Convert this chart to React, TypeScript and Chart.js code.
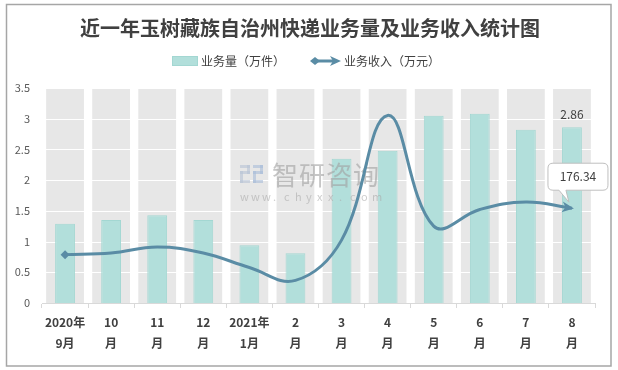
import React, { useEffect, useRef } from "react";
import { Chart, registerables } from "chart.js";

Chart.register(...registerables);

const title = "近一年玉树藏族自治州快递业务量及业务收入统计图";
const volumeLabel = "业务量（万件）";
const revenueLabel = "业务收入（万元）";
const categories = [
  ["2020年", "9月"], ["10", "月"], ["11", "月"], ["12", "月"],
  ["2021年", "1月"], ["2", "月"], ["3", "月"], ["4", "月"],
  ["5", "月"], ["6", "月"], ["7", "月"], ["8", "月"],
];
const volume = [1.29, 1.35, 1.43, 1.35, 0.94, 0.81, 2.35, 2.48, 3.05, 3.08, 2.82, 2.86];
const revenue = [90, 93, 104, 93, 66, 42, 117, 349, 143, 174, 188, 176.34];
const backgroundLevel = [3.5, 3.5, 3.5, 3.5, 3.5, 3.5, 3.5, 3.5, 3.5, 3.5, 3.5, 3.5];
const yMin = 0;
const yMax = 3.5;
const yStep = 0.5;
const y2Max = 400;
const volumeLabelText = "2.86";
const revenueLabelText = "176.34";

const FONT = '"Noto Sans CJK SC", "Liberation Sans", sans-serif';
const LINE_COLOR = "#5a8ca5";
const BAR_COLOR = "#b2dfdb";
const BAR_BORDER = "#a3d7d2";
const BG_BAR = "#e7e7e7";

const customPlugin = {
  id: "custom",
  beforeDraw(chart: any) {
    const ctx = chart.ctx;
    ctx.save();
    ctx.fillStyle = "#ffffff";
    ctx.fillRect(0, 0, chart.width, chart.height);
    ctx.strokeStyle = "#a6a6a6";
    ctx.lineWidth = 1.5;
    ctx.strokeRect(6.5, 4.5, 604.5, 361.5);
    ctx.restore();
  },
  afterDatasetDraw(chart: any, args: any) {
    const ctx = chart.ctx;
    const area = chart.chartArea;
    if (args.index === 2) {
      const ys = chart.scales.y;
      ctx.save();
      ctx.strokeStyle = "#ffffff";
      ctx.lineWidth = 1.2;
      ys.ticks.forEach((t: any) => {
        if (t.value <= 0) return;
        const y = Math.round(ys.getPixelForValue(t.value)) + 0.5;
        ctx.beginPath();
        ctx.moveTo(area.left, y);
        ctx.lineTo(area.right, y);
        ctx.stroke();
      });
      ctx.restore();
    }
    if (args.index === 1) {
      ctx.save();
      ctx.globalAlpha = 0.6;
      ctx.fillStyle = "#b7c3d6";
      ctx.fillRect(240, 165, 10, 3);
      ctx.fillRect(247, 165, 3, 9);
      ctx.fillRect(240, 171, 10, 3);
      ctx.fillRect(240, 171, 3, 12);
      ctx.fillRect(240, 180, 10, 3);
      ctx.fillStyle = "#a9bcd8";
      ctx.fillRect(253, 165, 10, 3);
      ctx.fillRect(260, 165, 3, 9);
      ctx.fillRect(253, 171, 10, 3);
      ctx.fillRect(253, 171, 3, 12);
      ctx.fillRect(253, 180, 10, 3);
      ctx.fillStyle = "#a0a0a0";
      ctx.font = `26px ${FONT}`;
      ctx.textBaseline = "middle";
      ctx.textAlign = "left";
      const wm = "智研咨询";
      for (let i = 0; i < wm.length; i++) ctx.fillText(wm[i], 272 + i * 27, 175);
      ctx.font = `11px ${FONT}`;
      const url = "www.chyxx.com";
      ctx.fillStyle = "#aaaaaa";
      for (let i = 0; i < url.length; i++) ctx.fillText(url[i], 240 + i * 11, 197);
      ctx.restore();
    }
  },
  afterDatasetsDraw(chart: any) {
    const ctx = chart.ctx;
    const meta = chart.getDatasetMeta(0);
    const pts = meta.data;
    const last = pts[pts.length - 1];
    const prev = pts[pts.length - 2];
    let cx = last.cp1x, cy = last.cp1y;
    if (cx === undefined || (Math.abs(cx - last.x) < 0.01 && Math.abs(cy - last.y) < 0.01)) {
      cx = prev.x; cy = prev.y;
    }
    const ang = Math.atan2(last.y - cy, last.x - cx);
    ctx.save();
    ctx.fillStyle = LINE_COLOR;
    const len = 12, half = 5.5;
    const tipX = last.x + Math.cos(ang) * 2;
    const tipY = last.y + Math.sin(ang) * 2;
    ctx.beginPath();
    ctx.moveTo(tipX, tipY);
    ctx.lineTo(tipX - Math.cos(ang) * len - Math.sin(ang) * half, tipY - Math.sin(ang) * len + Math.cos(ang) * half);
    ctx.lineTo(tipX - Math.cos(ang) * len * 0.7, tipY - Math.sin(ang) * len * 0.7);
    ctx.lineTo(tipX - Math.cos(ang) * len + Math.sin(ang) * half, tipY - Math.sin(ang) * len - Math.cos(ang) * half);
    ctx.closePath();
    ctx.fill();
    ctx.restore();

    const barMeta = chart.getDatasetMeta(1);
    const lb = barMeta.data[barMeta.data.length - 1];
    ctx.save();
    ctx.font = `12px ${FONT}`;
    ctx.fillStyle = "#404040";
    ctx.textAlign = "center";
    ctx.textBaseline = "middle";
    ctx.fillText(volumeLabelText, lb.x, lb.y - 13);
    ctx.restore();

    const px = last.x, py = last.y;
    const left = px - 24, right = px + 36, top = py - 45, bottom = py - 18, r = 5;
    ctx.save();
    ctx.fillStyle = "#ffffff";
    ctx.strokeStyle = "#bfbfbf";
    ctx.lineWidth = 1;
    ctx.beginPath();
    ctx.moveTo(left + r, top);
    ctx.lineTo(right - r, top);
    ctx.quadraticCurveTo(right, top, right, top + r);
    ctx.lineTo(right, bottom - r);
    ctx.quadraticCurveTo(right, bottom, right - r, bottom);
    ctx.lineTo(px - 6, bottom);
    ctx.lineTo(px - 3, py - 6);
    ctx.lineTo(px - 13, bottom);
    ctx.lineTo(left + r, bottom);
    ctx.quadraticCurveTo(left, bottom, left, bottom - r);
    ctx.lineTo(left, top + r);
    ctx.quadraticCurveTo(left, top, left + r, top);
    ctx.closePath();
    ctx.fill();
    ctx.stroke();
    ctx.font = `12px ${FONT}`;
    ctx.fillStyle = "#404040";
    ctx.textAlign = "center";
    ctx.textBaseline = "middle";
    ctx.fillText(revenueLabelText, (left + right) / 2, (top + bottom) / 2);
    ctx.restore();
  },
  afterDraw(chart: any) {
    const ctx = chart.ctx;
    ctx.save();
    ctx.font = `bold 20px ${FONT}`;
    ctx.fillStyle = "#404040";
    ctx.textAlign = "center";
    ctx.textBaseline = "middle";
    ctx.fillText(title, 310, 28);
    ctx.font = `12px ${FONT}`;
    ctx.textAlign = "left";
    ctx.fillStyle = BAR_COLOR;
    ctx.fillRect(172, 56, 26, 10);
    ctx.strokeStyle = BAR_BORDER;
    ctx.lineWidth = 1;
    ctx.strokeRect(172.5, 56.5, 25, 9);
    ctx.fillStyle = "#404040";
    ctx.fillText(volumeLabel, 201, 61);
    ctx.strokeStyle = LINE_COLOR;
    ctx.fillStyle = LINE_COLOR;
    ctx.lineWidth = 3;
    ctx.beginPath();
    ctx.moveTo(314, 61);
    ctx.lineTo(334, 61);
    ctx.stroke();
    ctx.beginPath();
    ctx.moveTo(310, 61);
    ctx.lineTo(315, 57);
    ctx.lineTo(320, 61);
    ctx.lineTo(315, 65);
    ctx.closePath();
    ctx.fill();
    ctx.beginPath();
    ctx.moveTo(341, 61);
    ctx.lineTo(330, 56);
    ctx.lineTo(333, 61);
    ctx.lineTo(330, 66);
    ctx.closePath();
    ctx.fill();
    ctx.fillStyle = "#404040";
    ctx.fillText(revenueLabel, 344, 61);
    ctx.restore();
  },
};

export default function App() {
  const ref = useRef<HTMLCanvasElement | null>(null);
  useEffect(() => {
    if (!ref.current) return;
    const chart = new Chart(ref.current, {
      type: "bar",
      data: {
        labels: categories as any,
        datasets: [
          {
            type: "line",
            label: revenueLabel,
            data: revenue,
            yAxisID: "y2",
            borderColor: LINE_COLOR,
            backgroundColor: LINE_COLOR,
            borderWidth: 3,
            tension: 0.4,
            pointStyle: "rectRot",
            pointRadius: revenue.map((_, i) => (i === 0 ? 4.5 : 0)),
            pointBorderWidth: 0,
            pointBackgroundColor: LINE_COLOR,
            order: 0,
          } as any,
          {
            type: "bar",
            label: volumeLabel,
            data: volume,
            yAxisID: "y",
            backgroundColor: BAR_COLOR,
            borderColor: BAR_BORDER,
            borderWidth: 1,
            barPercentage: 0.43,
            categoryPercentage: 1,
            grouped: false,
            order: 1,
          } as any,
          {
            type: "bar",
            label: "bg",
            data: backgroundLevel,
            yAxisID: "y",
            backgroundColor: BG_BAR,
            borderWidth: 0,
            barPercentage: 0.82,
            categoryPercentage: 1,
            grouped: false,
            order: 2,
          } as any,
        ],
      },
      options: {
        responsive: false,
        animation: false,
        layout: { padding: { left: 0, right: 23, top: 88, bottom: 0 } },
        plugins: {
          legend: { display: false },
          title: { display: false },
          tooltip: { enabled: false },
        },
        scales: {
          x: {
            offset: true,
            grid: {
              offset: true,
              drawOnChartArea: false,
              drawTicks: true,
              tickLength: 5,
              color: "#d9d9d9",
            },
            border: { display: true, color: "#d9d9d9", width: 1 },
            ticks: {
              color: "#404040",
              font: { family: FONT, size: 12, weight: "bold", lineHeight: 1.75 },
              padding: 4,
              maxRotation: 0,
              autoSkip: false,
            },
            afterFit: (s: any) => { s.height = 67; },
          },
          y: {
            min: yMin,
            max: yMax,
            ticks: {
              stepSize: yStep,
              color: "#595959",
              font: { family: FONT, size: 11 },
              padding: 12,
              callback: (v: any) => String(Number(v)),
            },
            grid: { display: false, drawTicks: false },
            border: { display: false },
            afterFit: (s: any) => { s.width = 42; },
          },
          y2: {
            display: false,
            min: 0,
            max: y2Max,
          },
        },
      } as any,
      plugins: [customPlugin],
    });
    return () => chart.destroy();
  }, []);
  return (
    <div style={{ position: "fixed", left: 0, top: 0, width: 618, height: 370, background: "#fff" }}>
      <canvas ref={ref} width={618} height={370} />
    </div>
  );
}
